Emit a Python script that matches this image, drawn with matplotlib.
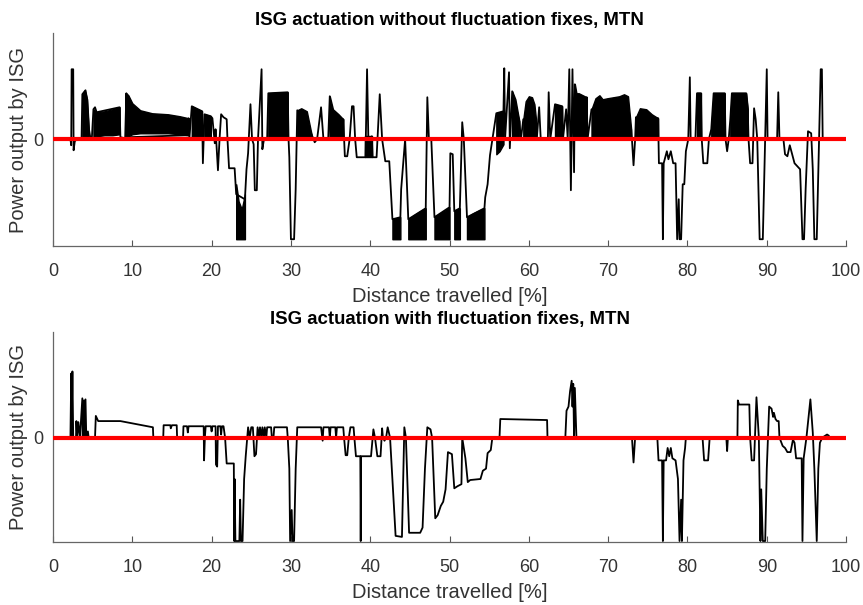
import numpy as np
import matplotlib.pyplot as plt

plt.rcParams['font.family'] = ['Liberation Sans', 'DejaVu Sans']

# ISG power (normalised, -1 = full regen) vs distance, before fluctuation fixes
top_x = [2.2, 2.3, 2.35, 2.55, 2.6, 2.75, 3.0, 3.6, 3.7, 3.9, 4.1, 4.3, 4.5, 4.7, 4.9,
         5.1, 5.3, 5.5, 8.4, 8.5, 9.1, 9.25, 9.3, 17.0, 17.1, 17.2, 17.5, 18.8, 18.9,
         19.0, 19.1, 19.9, 20.1, 20.4, 20.5, 20.8, 21.0, 21.2, 21.5, 21.9, 22.0, 22.2,
         22.9, 23.1, 24.2, 24.4, 24.6, 24.9, 25.1, 25.3, 25.45, 25.7, 25.85, 26.3, 26.4,
         26.6, 27.0, 27.15, 29.6, 29.7, 29.8, 30.0, 30.4, 30.6, 30.8, 32.6, 33.0, 33.3,
         33.8, 34.1, 34.7, 34.9, 35.0, 36.5, 36.6, 36.8, 37.1, 37.4, 37.7, 37.9, 38.1,
         38.3, 39.4, 39.6, 39.8, 40.2, 40.3, 40.8, 41.2, 41.5, 41.9, 42.4, 42.8, 43.8,
         43.9, 44.4, 44.8, 47.0, 47.2, 47.4, 47.7, 48.1, 50.0, 50.1, 50.4, 50.6, 51.3,
         51.6, 51.8, 52.2, 54.4, 54.5, 54.8, 55.1, 55.4, 55.9, 56.8, 56.9, 57.0, 57.5,
         57.6, 57.9, 58.8, 59.0, 59.3, 60.9, 61.0, 61.3, 61.5, 62.4, 62.5, 62.7, 63.3,
         64.2, 64.3, 64.7, 64.9, 65.1, 65.3, 65.5, 65.7, 65.8, 65.9, 67.2, 67.3, 67.4,
         67.9, 72.9, 73.0, 73.2, 73.4, 73.5, 76.3, 76.4, 76.8, 76.9, 77.0, 77.4, 77.6,
         77.9, 78.2, 78.5, 78.7, 78.9, 79.0, 79.2, 79.4, 79.6, 79.8, 80.1, 80.3, 80.4,
         81.0, 81.2, 81.7, 81.8, 82.0, 82.5, 82.7, 83.0, 83.3, 84.7, 84.8, 85.0, 85.2,
         85.4, 85.6, 87.4, 87.6, 87.7, 87.9, 88.2, 88.4, 88.6, 88.8, 89.1, 89.5, 89.8,
         90.0, 90.1, 91.3, 91.45, 91.6, 92.1, 92.3, 92.6, 92.9, 93.2, 93.5, 94.2, 94.5,
         94.7, 94.9, 95.2, 95.6, 95.8, 96.0, 96.3, 96.6, 96.8, 96.95, 97.05, 97.3]
top_y = [0.0, -0.06, 0.70, 0.70, -0.11, -0.02, 0.0, 0.0, 0.45, 0.47, 0.49, 0.40, 0.12,
         0.02, 0.01, 0.30, 0.32, 0.27, 0.32, 0.02, 0.01, 0.46, 0.02, 0.04, 0.21, 0.01,
         0.33, 0.28, -0.24, 0.0, 0.25, 0.23, 0.21, -0.04, 0.10, -0.31, 0.0, 0.25, 0.22,
         0.20, 0.0, -0.29, -0.29, -0.55, -0.60, -0.30, -0.14, 0.35, 0.0, -0.05, -0.51,
         -0.51, 0.0, 0.70, -0.10, 0.0, 0.0, 0.46, 0.47, 0.0, -0.18, -1.0, -1.0, -0.50,
         0.29, 0.05, -0.03, 0.0, 0.32, 0.0, 0.0, 0.43, 0.0, 0.0, 0.20, -0.17, -0.17, 0.0,
         0.33, 0.33, 0.0, -0.18, -0.18, 0.70, -0.15, 0.03, -0.18, -0.18, 0.45, 0.0,
         -0.22, -0.22, -0.80, -0.78, -0.50, 0.0, -0.80, -0.69, 0.42, 0.0, 0.0, -0.78,
         -0.68, -0.14, -0.15, -0.72, -0.69, 0.17, 0.0, -0.78, -0.69, -0.58, -0.45, -0.16,
         0.0, 0.26, 0.28, 0.71, 0.0, 0.67, -0.09, 0.48, 0.18, 0.0, 0.20, 0.20, 0.0, 0.32,
         0.0, 0.0, 0.47, 0.0, 0.35, 0.33, 0.0, 0.30, 0.0, 0.70, -0.51, 0.70, -0.33, 0.55,
         0.0, 0.0, 0.42, 0.0, 0.30, 0.10, 0.0, -0.26, 0.0, 0.22, 0.21, -0.24, -0.24,
         -1.0, -0.24, -0.12, -0.20, -0.12, -0.24, -0.24, -1.0, -0.60, -1.0, -1.0, -0.45,
         -0.45, -0.12, 0.0, 0.62, 0.0, 0.0, 0.46, 0.46, 0.0, -0.24, -0.24, 0.0, 0.10,
         0.46, 0.46, 0.0, -0.12, 0.0, 0.20, 0.46, 0.46, 0.30, 0.0, -0.24, -0.24, 0.31,
         0.20, 0.0, -1.0, -1.0, 0.0, 0.70, 0.0, 0.0, 0.47, 0.0, 0.0, -0.15, -0.17, -0.06,
         -0.15, -0.24, -0.30, -1.0, -1.0, -0.50, 0.08, 0.06, -0.30, -1.0, -1.0, 0.0,
         0.70, 0.70, 0.0, 0.0]

# stretches where the unfixed signal chatters between two levels
band_x = [[3.7, 4.0, 4.3, 4.5], [5.1, 5.5, 6.5, 7.5, 8.4],
          [9.25, 9.5, 10.0, 11.0, 12.5, 14.5, 16.0, 17.1], [17.5, 18.2, 18.8], [19.1, 19.9],
          [23.1, 23.4, 23.8, 24.2], [27.15, 29.6], [30.8, 31.3, 32.0, 32.6],
          [34.9, 35.3, 36.0, 36.6], [39.4, 40.2], [42.8, 43.8], [44.8, 45.5, 46.3, 47.0],
          [48.1, 48.8, 49.5, 50.0], [50.6, 51.3], [52.2, 53.0, 53.8, 54.4],
          [55.9, 56.3, 56.8], [57.9, 58.3, 58.8], [59.3, 59.6, 60.0, 60.4, 60.7, 60.9],
          [63.3, 64.2], [65.8, 66.0, 66.3, 67.3],
          [67.9, 68.4, 68.9, 69.3, 69.9, 71.4, 72.0, 72.5, 72.9],
          [73.5, 74.0, 74.8, 75.5, 76.3], [81.2, 81.7], [83.0, 83.3, 84.7],
          [85.4, 85.6, 87.4, 87.6]]
band_hi = [[0.45, 0.49, 0.40, 0.12], [0.30, 0.27, 0.28, 0.30, 0.32],
           [0.46, 0.44, 0.36, 0.29, 0.26, 0.25, 0.23, 0.21], [0.33, 0.30, 0.28], [0.25, 0.23],
           [-0.45, -0.62, -0.70, -0.55], [0.46, 0.47], [0.29, 0.31, 0.28, 0.05],
           [0.43, 0.30, 0.25, 0.20], [0.03, 0.03], [-0.80, -0.78], [-0.80, -0.76, -0.72, -0.69],
           [-0.78, -0.74, -0.71, -0.68], [-0.72, -0.69], [-0.78, -0.74, -0.71, -0.69],
           [0.26, 0.27, 0.28], [0.48, 0.40, 0.18], [0.20, 0.38, 0.43, 0.42, 0.35, 0.20],
           [0.35, 0.33], [0.55, 0.46, 0.46, 0.42],
           [0.30, 0.41, 0.44, 0.40, 0.41, 0.43, 0.45, 0.43, 0.10],
           [0.22, 0.31, 0.30, 0.25, 0.21], [0.46, 0.46], [0.10, 0.46, 0.46],
           [0.20, 0.46, 0.46, 0.30]]
band_lo = [[0.0, 0.02, 0.04, 0.0], [0.02, 0.03, 0.04, 0.04, 0.05],
           [0.01, 0.03, 0.05, 0.06, 0.06, 0.06, 0.05, 0.04], [0.0, 0.0, 0.0], [0.0, 0.0],
           [-1.0, -1.0, -1.0, -1.0], [0.0, 0.0], [0.0, 0.0, 0.0, 0.0],
           [0.0, 0.0, 0.0, 0.0], [-0.18, -0.18], [-1.0, -1.0], [-1.0, -1.0, -1.0, -1.0],
           [-1.0, -1.0, -1.0, -1.0], [-1.0, -1.0], [-1.0, -1.0, -1.0, -1.0],
           [-0.15, -0.12, -0.05], [0.0, 0.0, 0.0], [0.0, 0.0, 0.0, 0.0, 0.0, 0.0],
           [0.0, 0.0], [0.0, 0.0, 0.0, 0.0],
           [0.0, 0.0, 0.0, 0.0, 0.0, 0.0, 0.0, 0.0, 0.0],
           [0.0, 0.0, 0.0, 0.0, 0.0], [0.0, 0.0], [0.0, 0.0, 0.0],
           [0.0, 0.0, 0.0, 0.0]]

# same route with the fluctuation fixes applied
bot_x = [2.2, 2.3, 2.35, 2.45, 2.55, 2.9, 2.95, 3.05, 3.2, 3.4, 3.7, 3.75, 3.9, 3.95,
         4.1, 4.2, 4.4, 4.5, 5.3, 5.4, 5.7, 8.5, 12.6, 12.65, 13.9, 13.95, 14.8, 14.85,
         15.0, 15.6, 15.65, 16.4, 16.45, 16.9, 17.0, 17.1, 19.0, 19.05, 19.15, 19.25,
         19.9, 20.0, 20.1, 20.5, 20.55, 20.7, 20.8, 21.1, 21.2, 21.3, 21.5, 21.7, 21.9,
         22.8, 22.85, 22.9, 23.0, 23.5, 23.6, 23.7, 23.9, 24.1, 24.3, 24.6, 24.8, 25.0,
         25.2, 25.4, 25.6, 25.8, 26.0, 26.1, 26.3, 26.4, 26.6, 26.7, 26.9, 27.0, 27.5,
         27.6, 27.8, 27.9, 29.5, 29.6, 29.8, 29.9, 30.1, 30.2, 30.4, 30.6, 30.8, 33.8,
         34.0, 34.1, 34.8, 34.9, 35.0, 35.6, 35.7, 35.8, 36.6, 36.7, 36.9, 37.1, 37.3,
         37.5, 37.9, 38.0, 38.2, 38.75, 38.8, 38.85, 40.1, 40.4, 40.6, 40.9, 41.3, 41.5,
         41.6, 41.8, 42.0, 42.2, 42.5, 42.9, 43.2, 44.0, 44.3, 44.5, 44.9, 46.3, 46.6,
         46.9, 47.2, 47.6, 47.8, 48.2, 48.5, 48.9, 49.2, 49.5, 49.8, 50.3, 50.6, 51.0,
         51.5, 51.6, 52.0, 52.3, 52.6, 53.9, 54.2, 54.6, 54.8, 55.2, 55.4, 56.3, 56.4,
         62.3, 62.35, 64.6, 64.75, 65.0, 65.2, 65.4, 65.5, 65.6, 65.7, 65.8, 66.0, 73.0,
         73.2, 73.4, 76.2, 76.35, 76.8, 76.9, 77.0, 77.3, 77.5, 77.7, 77.9, 78.1, 78.5,
         78.8, 79.0, 79.2, 79.3, 79.5, 79.7, 79.8, 81.9, 82.1, 82.6, 82.8, 84.9, 85.0,
         85.1, 86.3, 86.35, 86.5, 87.8, 87.9, 88.1, 88.4, 88.7, 89.0, 89.2, 89.3, 89.5,
         89.8, 90.0, 90.3, 90.6, 90.8, 90.9, 91.1, 91.3, 91.5, 91.6, 92.0, 92.3, 92.6,
         93.0, 93.3, 93.5, 93.7, 94.4, 94.5, 94.65, 95.0, 95.5, 95.8, 96.0, 96.3, 96.5,
         96.7, 97.0, 97.6, 97.8]
bot_y = [0.0, 0.62, 0.0, 0.64, 0.0, 0.0, 0.16, 0.0, 0.15, 0.0, 0.38, 0.0, 0.36, 0.0,
         0.37, 0.0, 0.06, 0.0, 0.0, 0.21, 0.16, 0.16, 0.10, 0.0, 0.0, 0.12, 0.12, 0.09,
         0.12, 0.12, 0.0, 0.0, 0.11, 0.11, 0.05, 0.11, 0.11, -0.22, 0.0, 0.11, 0.11, 0.06,
         0.11, 0.11, -0.26, -0.28, 0.11, 0.11, 0.03, 0.11, 0.11, 0.0, -0.25, -0.25, -1.0,
         -0.40, -1.0, -1.0, -0.60, -1.0, -1.0, -0.40, -0.18, 0.10, 0.0, 0.10, 0.10, -0.18,
         -0.16, 0.10, 0.0, 0.10, 0.0, 0.10, 0.0, 0.10, 0.0, 0.10, 0.10, 0.0, 0.0, 0.10,
         0.10, 0.0, -0.30, -1.0, -0.70, -1.0, -1.0, -0.30, 0.10, 0.10, -0.03, 0.10, 0.10,
         0.0, 0.10, 0.10, 0.0, 0.10, 0.10, 0.0, -0.17, -0.17, 0.0, 0.10, 0.10, 0.0, -0.18,
         -0.18, -1.0, -0.18, -0.18, 0.08, 0.0, -0.18, -0.18, 0.09, 0.0, -0.03, 0.0, 0.10,
         0.0, -0.55, -0.95, -0.96, 0.10, 0.0, -0.92, -0.92, -0.87, -0.30, 0.10, 0.08, 0.0,
         -0.78, -0.75, -0.66, -0.62, -0.50, -0.14, -0.16, -0.49, -0.47, -0.45, 0.0, -0.20,
         -0.43, -0.41, -0.40, -0.32, -0.30, -0.15, -0.12, 0.0, 0.0, 0.18, 0.17, 0.0, 0.0,
         0.26, 0.30, 0.45, 0.55, 0.30, 0.52, 0.0, 0.48, 0.0, 0.0, -0.24, 0.0, 0.0, -0.22,
         -0.22, -1.0, -0.22, -0.22, -0.10, -0.18, -0.10, -0.20, -0.22, -0.40, -1.0, -0.60,
         -1.0, -0.22, -0.10, 0.0, 0.0, -0.22, -0.22, 0.0, 0.0, -0.13, 0.0, 0.0, 0.36, 0.32,
         0.32, 0.0, -0.22, -0.22, 0.39, 0.0, -1.0, -0.50, -1.0, -1.0, -0.30, 0.30, 0.28,
         0.20, 0.24, 0.18, 0.16, 0.16, 0.0, -0.08, -0.10, -0.14, -0.14, -0.02, -0.05,
         -0.20, -0.20, -1.0, -0.20, 0.0, 0.37, 0.05, -0.30, -1.0, -0.30, -0.05, 0.0, 0.03,
         0.02]

titles = ['ISG actuation without fluctuation fixes, MTN',
          'ISG actuation with fluctuation fixes, MTN']
xticks = np.arange(0, 101, 10)

fig = plt.figure(figsize=(8.63, 6.05), dpi=100)
ax_top = fig.add_axes([0.0614, 0.593, 0.919, 0.352])
ax_bot = fig.add_axes([0.0614, 0.104, 0.919, 0.347])

ax_top.plot(top_x, top_y, color='black', lw=1.3, zorder=2)
for bx, bh, bl in zip(band_x, band_hi, band_lo):
    ax_top.fill_between(bx, bl, bh, color='black', lw=1.0, edgecolor='black', zorder=2)
ax_top.set_ylim(-1.07, 1.06)

ax_bot.plot(bot_x, bot_y, color='black', lw=1.3, zorder=2)
ax_bot.set_ylim(-1.01, 1.02)

for ax, title in zip([ax_top, ax_bot], titles):
    ax.plot([0, 100], [0, 0], color='red', lw=3, zorder=3)
    ax.set_xlim(0, 100)
    ax.set_xticks(xticks)
    ax.set_yticks([0])
    ax.tick_params(direction='in', length=4, width=0.8, colors='#555555',
                   labelcolor='#333333', labelsize=13)
    ax.tick_params(axis='x', pad=12)
    ax.tick_params(axis='y', pad=7)
    for side in ['top', 'right']:
        ax.spines[side].set_visible(False)
    for side in ['left', 'bottom']:
        ax.spines[side].set_color('#666666')
        ax.spines[side].set_linewidth(0.9)
    ax.set_title(title, fontsize=13.4, fontweight='bold', pad=6)
    ax.set_xlabel('Distance travelled [%]', fontsize=14.5, color='#333333', labelpad=5)
    ax.set_ylabel('Power output by ISG', fontsize=14.5, color='#333333')
    ax.yaxis.set_label_coords(-0.031, 0.5)

fig.savefig('out.png', dpi=100)
